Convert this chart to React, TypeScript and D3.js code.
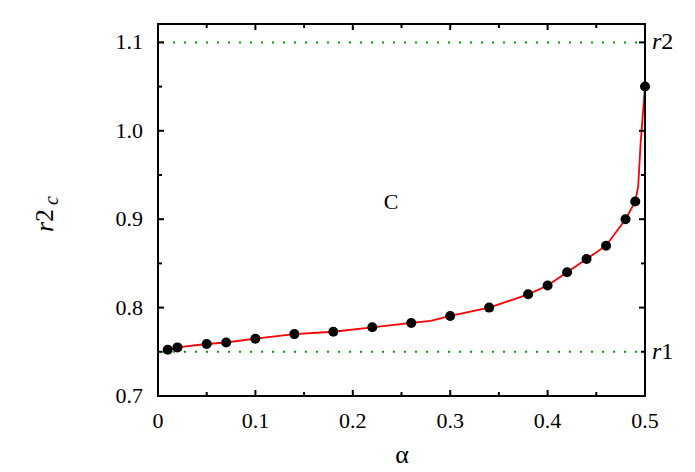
import React from "react";
import * as d3 from "d3";

const alphaPts = [0.01, 0.02, 0.05, 0.07, 0.1, 0.14, 0.18, 0.22, 0.26, 0.3, 0.34, 0.38, 0.4, 0.42, 0.44, 0.46, 0.48, 0.49, 0.5];
const r2cPts = [0.7524, 0.755, 0.7588, 0.7605, 0.7648, 0.7700, 0.7727, 0.7777, 0.7826, 0.7905, 0.8, 0.815, 0.825, 0.840, 0.855, 0.870, 0.900, 0.920, 1.050];

const alphaLine = [0.01, 0.02, 0.05, 0.07, 0.1, 0.14, 0.18, 0.22, 0.26, 0.28, 0.3, 0.34, 0.38, 0.4, 0.42, 0.44, 0.46, 0.48, 0.49, 0.493, 0.4955, 0.5];
const r2cLine = [0.7524, 0.755, 0.7588, 0.7605, 0.7648, 0.7700, 0.7727, 0.7777, 0.7826, 0.785, 0.7905, 0.8, 0.815, 0.825, 0.840, 0.855, 0.870, 0.900, 0.920, 0.937, 0.986, 1.050];

const xTicks = [0, 0.1, 0.2, 0.3, 0.4, 0.5];
const xMinor = [0.05, 0.15, 0.25, 0.35, 0.45];
const yTicks = [0.7, 0.8, 0.9, 1.0, 1.1];
const yMinor = [0.75, 0.85, 0.95, 1.05];
const refLevels = [1.1, 0.75];
const refLabels = ["2", "1"];

const W = 695, H = 472;
const L = 158, R = 645, T = 24, B = 396;
const FONT = '"Liberation Serif", "Times New Roman", "DejaVu Serif", serif';
const txt = { fontFamily: FONT };

export default function App() {
  const x = d3.scaleLinear().domain([0, 0.5]).range([L, R]);
  const y = d3.scaleLinear().domain([0.7, 1.1208]).range([B, T]);
  const line = d3.line<number>().x((_, i) => x(alphaLine[i])).y((d) => y(d)).curve(d3.curveLinear);
  const maj = 6, mnr = 4;
  return (
    <svg width={W} height={H} style={{ position: "absolute", left: 0, top: 0 }}>
      <rect x={0} y={0} width={W} height={H} fill="white" />
      {refLevels.map((v, i) => (
        <line key={"ref" + i} x1={L + 4} x2={R} y1={y(v)} y2={y(v)} stroke="#00a000" strokeWidth={2} strokeDasharray="2 9" />
      ))}
      <path d={line(r2cLine) || ""} fill="none" stroke="#ff0000" strokeWidth={1.8} />
      {alphaPts.map((a, i) => (
        <circle key={"p" + i} cx={x(a)} cy={y(r2cPts[i])} r={5} fill="black" />
      ))}
      {xTicks.map((t) => (
        <g key={"xt" + t}>
          <line x1={x(t)} x2={x(t)} y1={B} y2={B - maj} stroke="black" strokeWidth={2} />
          <line x1={x(t)} x2={x(t)} y1={T} y2={T + maj} stroke="black" strokeWidth={2} />
          <text x={x(t)} y={428} textAnchor="middle" style={txt} fontSize={22}>{t === 0 ? "0" : t.toFixed(1)}</text>
        </g>
      ))}
      {xMinor.map((t) => (
        <g key={"xm" + t}>
          <line x1={x(t)} x2={x(t)} y1={B} y2={B - mnr} stroke="black" strokeWidth={2} />
          <line x1={x(t)} x2={x(t)} y1={T} y2={T + mnr} stroke="black" strokeWidth={2} />
        </g>
      ))}
      {yTicks.map((t) => (
        <g key={"yt" + t}>
          <line x1={L} x2={L + maj} y1={y(t)} y2={y(t)} stroke="black" strokeWidth={2} />
          <line x1={R} x2={R - maj} y1={y(t)} y2={y(t)} stroke="black" strokeWidth={2} />
          <text x={143} y={y(t) + 7} textAnchor="end" style={txt} fontSize={22}>{t.toFixed(1)}</text>
        </g>
      ))}
      {yMinor.map((t) => (
        <g key={"ym" + t}>
          <line x1={L} x2={L + mnr} y1={y(t)} y2={y(t)} stroke="black" strokeWidth={2} />
          <line x1={R} x2={R - mnr} y1={y(t)} y2={y(t)} stroke="black" strokeWidth={2} />
        </g>
      ))}
      <rect x={L} y={T} width={R - L} height={B - T} fill="none" stroke="black" strokeWidth={2} />
      {refLevels.map((v, i) => (
        <text key={"rl" + i} x={652} y={y(v) + 7} style={txt} fontSize={24}>
          <tspan fontStyle="italic">r</tspan>
          <tspan>{refLabels[i]}</tspan>
        </text>
      ))}
      <text x={391} y={209} textAnchor="middle" style={txt} fontSize={22}>C</text>
      <text x={402} y={463} textAnchor="middle" style={txt} fontSize={26}>α</text>
      <text transform="translate(53,232) rotate(-90)" style={txt} fontSize={26}>
        <tspan fontStyle="italic">r</tspan>
        <tspan>2</tspan>
        <tspan fontStyle="italic" fontSize={20} dx={4} dy={5}>c</tspan>
      </text>
    </svg>
  );
}
